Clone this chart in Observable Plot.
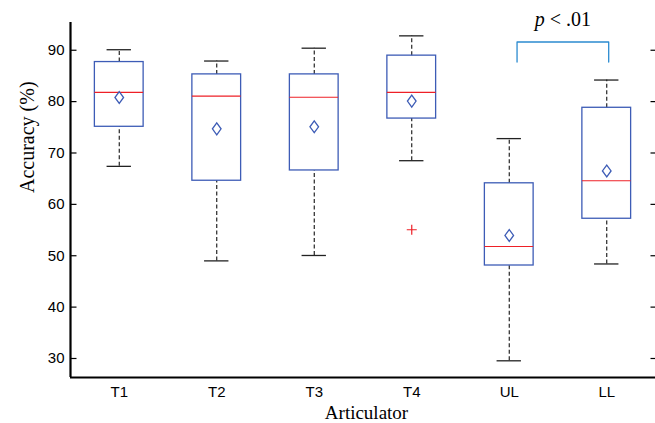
<!DOCTYPE html>
<html><head><meta charset="utf-8">
<script src="https://cdn.jsdelivr.net/npm/d3@7"></script>
<script src="https://cdn.jsdelivr.net/npm/@observablehq/plot@0.6"></script>
<style>body{margin:0;background:#fff}</style>
</head><body><div id="chart"></div>
<script>
// ---- data ----
const categories   = ["T1", "T2", "T3", "T4", "UL", "LL"];
const lowerWhisker = [67.4, 49.0, 50.05, 68.5, 29.55, 48.4];
const q1           = [75.1, 64.6, 66.6, 76.7, 48.1, 57.2];
const median       = [81.8, 81.05, 80.85, 81.8, 51.8, 64.6];
const q3           = [87.7, 85.3, 85.3, 88.95, 64.1, 78.8];
const upperWhisker = [90.1, 87.9, 90.4, 92.8, 72.8, 84.2];
const means        = [80.8, 74.7, 75.1, 80.1, 53.95, 66.5];
const outlierCategory = ["T4"];
const outlierValue    = [55.06];
const yTicks = [30, 40, 50, 60, 70, 80, 90];
const xDomain = [0.5, 6.5];
const yDomain = [26.3, 95.4];
const bracketX = [5.08, 6.02];   // positions on the category axis
const bracketY = [87.7, 91.6];
const sigLabel = "p < .01";
const xLabel = "Articulator";
const yLabel = "Accuracy (%)";

// ---- derived tables ----
const rows = categories.map((c, i) => ({
  c, pos: i + 1,
  lo: lowerWhisker[i], q1: q1[i], med: median[i], q3: q3[i], hi: upperWhisker[i], mean: means[i]
}));
const outliers = outlierCategory.map((c, i) => ({pos: categories.indexOf(c) + 1, v: outlierValue[i]}));
const bracket = [
  {x: bracketX[0], y: bracketY[0]},
  {x: bracketX[0], y: bracketY[1]},
  {x: bracketX[1], y: bracketY[1]},
  {x: bracketX[1], y: bracketY[0]}
];

const BOX = "#3d5cb6", MED = "#ee2027", BR = "#2b8bd0";
const diamondSym = {draw(ctx, size) { const r = Math.sqrt(size / Math.PI);
  ctx.moveTo(0, -r * 1.65); ctx.lineTo(r * 1.2, 0); ctx.lineTo(0, r * 1.65); ctx.lineTo(-r * 1.2, 0); ctx.closePath(); }};
const plusSym = {draw(ctx, size) { const r = Math.sqrt(size / Math.PI);
  ctx.moveTo(-r, 0); ctx.lineTo(r, 0); ctx.moveTo(0, -r); ctx.lineTo(0, r); }};
const tickRight = {draw(ctx) { ctx.moveTo(0, 0); ctx.lineTo(6, 0); }};
const tickLeft  = {draw(ctx) { ctx.moveTo(0, 0); ctx.lineTo(-5, 0); }};

const serif = "'Liberation Serif', 'Times New Roman', serif";

const chart = Plot.plot({
  width: 655, height: 423,
  marginLeft: 70, marginRight: 0, marginTop: 22, marginBottom: 46,
  style: {fontFamily: "'Liberation Sans', Arial, sans-serif", fontSize: "15px", color: "#000", background: "#fff"},
  x: {domain: xDomain, axis: null},
  y: {domain: yDomain, axis: null},
  marks: [
    Plot.axisY(yTicks, {tickSize: 0, tickPadding: 6, label: null, fontSize: 15}),
    Plot.axisX(rows.map(d => d.pos), {tickSize: 0, tickPadding: 9, tickFormat: p => categories[p - 1], label: null, fontSize: 15}),
    Plot.dot(yTicks, {y: d => d, frameAnchor: "left", symbol: tickRight, stroke: "#000", strokeWidth: 1.2}),
    Plot.dot(yTicks, {y: d => d, frameAnchor: "right", symbol: tickLeft, stroke: "#000", strokeWidth: 1.2}),
    // whiskers
    Plot.ruleX(rows, {x: "pos", y1: "q3", y2: "hi", stroke: "#111", strokeWidth: 1.1, strokeDasharray: "4,2.5"}),
    Plot.ruleX(rows, {x: "pos", y1: "lo", y2: "q1", stroke: "#111", strokeWidth: 1.1, strokeDasharray: "4,2.5"}),
    Plot.ruleY(rows, {y: "hi", x1: d => d.pos - 0.125, x2: d => d.pos + 0.125, stroke: "#222", strokeWidth: 1.3}),
    Plot.ruleY(rows, {y: "lo", x1: d => d.pos - 0.125, x2: d => d.pos + 0.125, stroke: "#222", strokeWidth: 1.3}),
    // boxes
    Plot.rect(rows, {x1: d => d.pos - 0.25, x2: d => d.pos + 0.25, y1: "q1", y2: "q3", fill: "none", stroke: BOX, strokeWidth: 1.3}),
    Plot.ruleY(rows, {y: "med", x1: d => d.pos - 0.25, x2: d => d.pos + 0.25, stroke: MED, strokeWidth: 1.2}),
    Plot.dot(rows, {x: "pos", y: "mean", symbol: diamondSym, r: 3.6, fill: "none", stroke: BOX, strokeWidth: 1.3}),
    Plot.dot(outliers, {x: "pos", y: "v", symbol: plusSym, r: 5, fill: "none", stroke: MED, strokeWidth: 1.2}),
    // significance bracket
    Plot.line(bracket, {x: "x", y: "y", stroke: BR, strokeWidth: 1.3}),
    Plot.text([sigLabel], {x: () => (bracketX[0] + bracketX[1]) / 2, frameAnchor: "top", dy: -3, lineAnchor: "middle",
      text: d => d, fontFamily: serif, fontSize: 20, fill: "#000"}),
    // axis lines
    Plot.ruleX([xDomain[0]], {stroke: "#000", strokeWidth: 2.2}),
    Plot.ruleY([yDomain[0]], {stroke: "#000", strokeWidth: 2.2}),
    // axis titles
    Plot.text([yLabel], {frameAnchor: "left", rotate: -90, dx: -43, dy: -7, text: d => d, fontFamily: serif, fontSize: 20, fill: "#000"}),
    Plot.text([xLabel], {frameAnchor: "bottom", dx: 3.5, dy: 35, lineAnchor: "middle", text: d => d, fontFamily: serif, fontSize: 19, fill: "#000"})
  ]
});

// italic "p" in the significance label
d3.select(chart).selectAll("text").each(function () {
  if (this.textContent === sigLabel) {
    const t = d3.select(this);
    t.text(null);
    t.append("tspan").attr("font-style", "italic").text(sigLabel.slice(0, 1));
    t.append("tspan").text(sigLabel.slice(1));
  }
});

document.getElementById("chart").appendChild(chart);
</script>
</body></html>
